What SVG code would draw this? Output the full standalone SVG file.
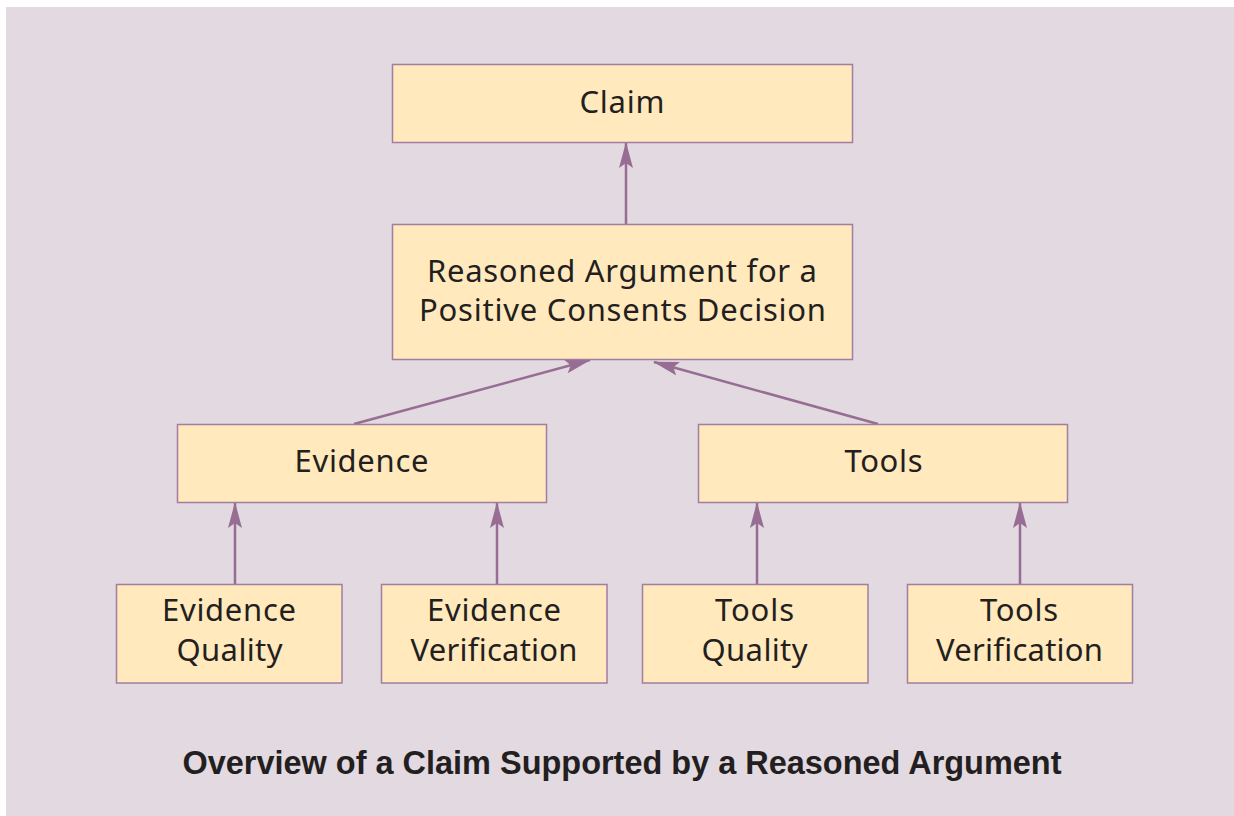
<svg xmlns="http://www.w3.org/2000/svg" width="1234" height="816" viewBox="0 0 1234 816">
  <defs>
    <style>
      .bg { fill: #e2d9e1; }
      .box { fill: #ffe9bd; stroke: #a27ea0; stroke-width: 1.5; }
      .lbl { font-family: "Noto Sans", "Open Sans", sans-serif; font-size: 31px; fill: #231f20; text-anchor: middle; font-variant-ligatures: none; }
      .cap { font-family: "Liberation Sans", Arial, sans-serif; font-size: 33px; font-weight: bold; fill: #231f20; text-anchor: middle; }
      .link { stroke: #976d93; stroke-width: 2.5; fill: none; marker-end: url(#head); }
    </style>
    <marker id="head" viewBox="0 0 26 14" refX="25" refY="7" markerWidth="26" markerHeight="14" markerUnits="userSpaceOnUse" orient="auto">
      <path d="M0,0 L26,7 L0,14 L5,7 Z" fill="#976d93"/>
    </marker>
  </defs>

  <rect class="bg" x="6" y="7" width="1228" height="809"/>

  <g id="connectors">
    <line class="link" x1="626" y1="224" x2="626" y2="143"/>
    <line class="link" x1="354" y1="424" x2="590" y2="360"/>
    <line class="link" x1="878" y1="424" x2="654" y2="362"/>
    <line class="link" x1="235" y1="584" x2="235" y2="503"/>
    <line class="link" x1="497" y1="584" x2="497" y2="503"/>
    <line class="link" x1="757" y1="584" x2="757" y2="503"/>
    <line class="link" x1="1020" y1="584" x2="1020" y2="503"/>
  </g>

  <g id="claim">
    <rect class="box" x="392.5" y="64.5" width="460" height="78"/>
    <text class="lbl" x="622" y="113" textLength="85">Claim</text>
  </g>

  <g id="reasoned-argument">
    <rect class="box" x="392.5" y="224.5" width="460" height="135"/>
    <text class="lbl" x="622" y="282" textLength="390">Reasoned Argument for a</text>
    <text class="lbl" x="622.5" y="321" textLength="407">Positive Consents Decision</text>
  </g>

  <g id="evidence">
    <rect class="box" x="177.5" y="424.5" width="369" height="78"/>
    <text class="lbl" x="361.5" y="472" textLength="134">Evidence</text>
  </g>

  <g id="tools">
    <rect class="box" x="698.5" y="424.5" width="369" height="78"/>
    <text class="lbl" x="883.5" y="472" textLength="78">Tools</text>
  </g>

  <g id="evidence-quality">
    <rect class="box" x="116.5" y="584.5" width="225.5" height="98.5"/>
    <text class="lbl" x="229" y="621" textLength="134">Evidence</text>
    <text class="lbl" x="229.5" y="661" textLength="106">Quality</text>
  </g>

  <g id="evidence-verification">
    <rect class="box" x="381.5" y="584.5" width="225.5" height="98.5"/>
    <text class="lbl" x="494" y="621" textLength="134">Evidence</text>
    <text class="lbl" x="494" y="661" textLength="167">Verification</text>
  </g>

  <g id="tools-quality">
    <rect class="box" x="642.5" y="584.5" width="225.5" height="98.5"/>
    <text class="lbl" x="754.5" y="621" textLength="79">Tools</text>
    <text class="lbl" x="754.5" y="661" textLength="106">Quality</text>
  </g>

  <g id="tools-verification">
    <rect class="box" x="907.5" y="584.5" width="225" height="98.5"/>
    <text class="lbl" x="1019" y="621" textLength="78">Tools</text>
    <text class="lbl" x="1019.5" y="661" textLength="167">Verification</text>
  </g>

  <text class="cap" x="622" y="774" textLength="879" lengthAdjust="spacingAndGlyphs">Overview of a Claim Supported by a Reasoned Argument</text>
</svg>
